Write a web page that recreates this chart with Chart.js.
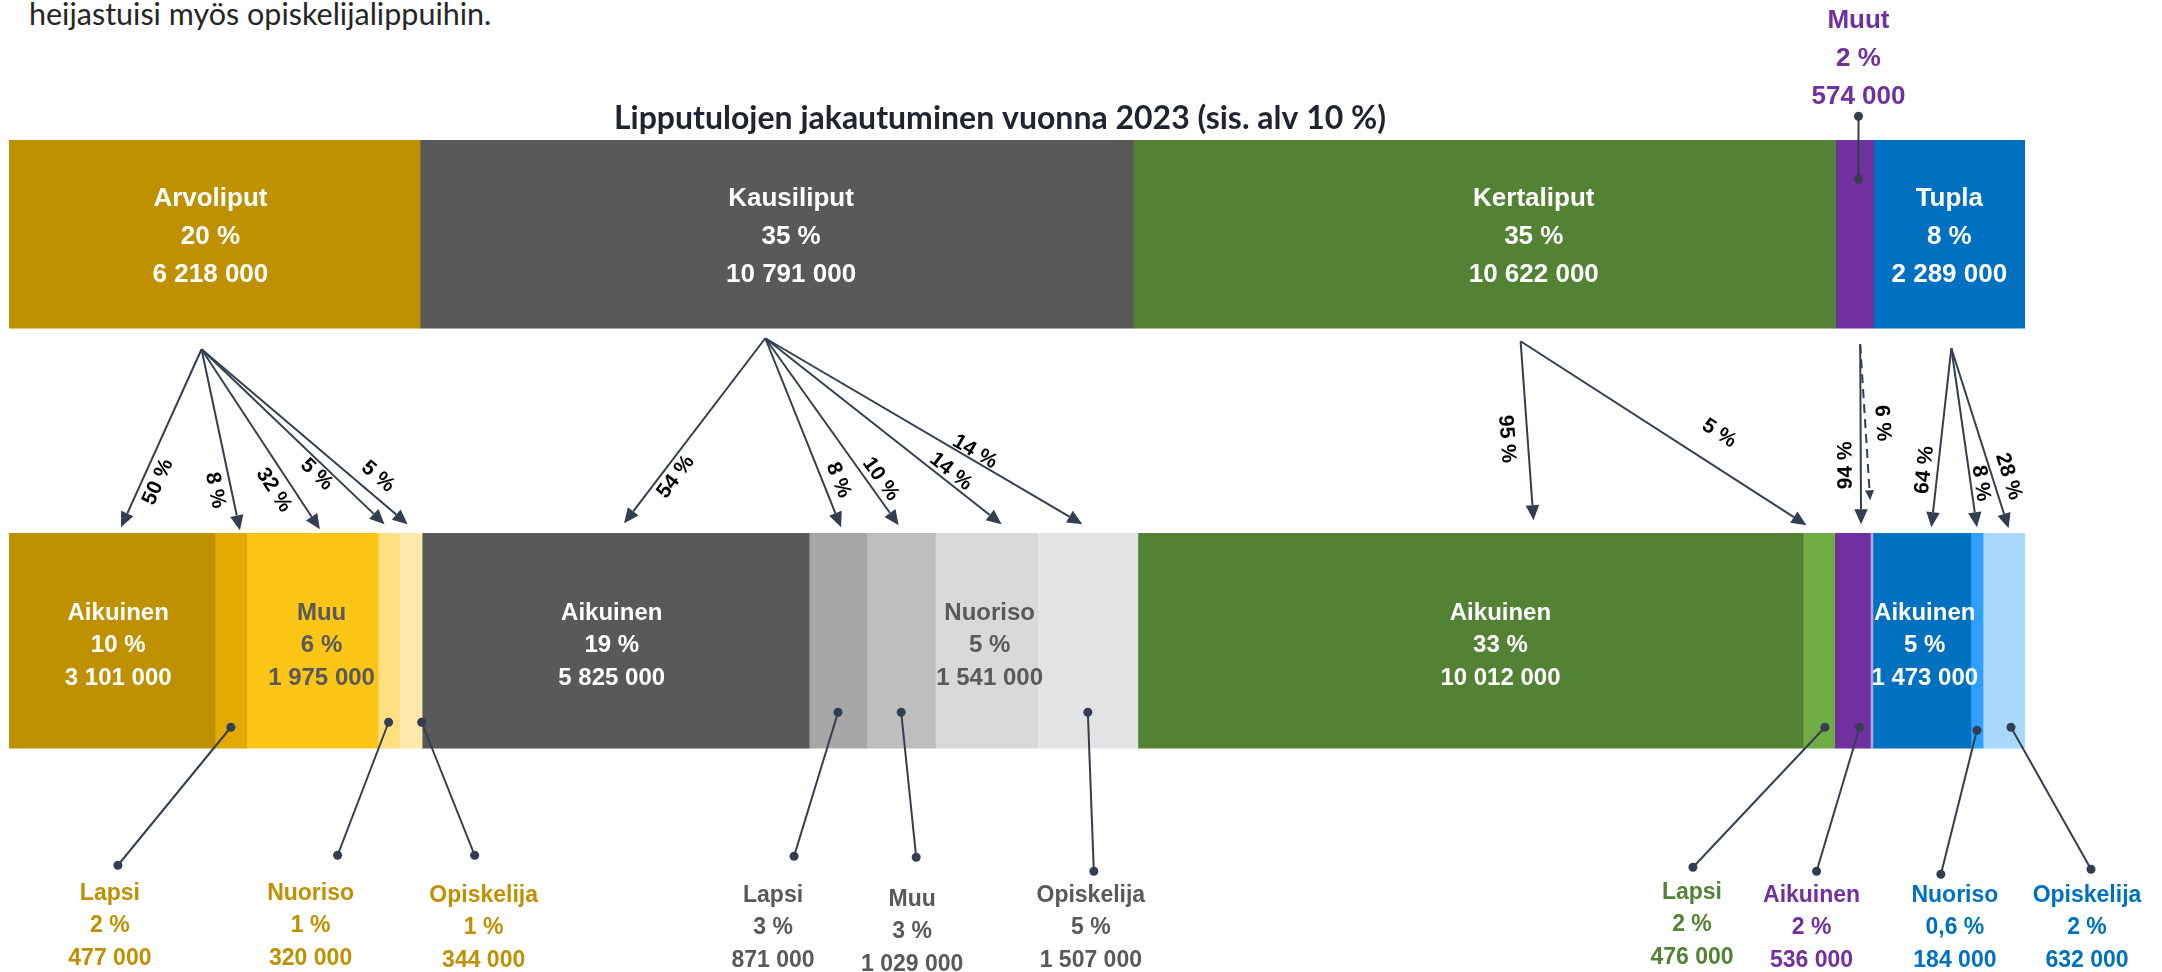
<!DOCTYPE html>
<html>
<head>
<meta charset="utf-8">
<script src="https://cdn.jsdelivr.net/npm/chart.js@4.4.1/dist/chart.umd.min.js"></script>
<style>
 html, body { margin: 0; padding: 0; background: #fff; }
 #wrap { position: relative; width: 2162px; height: 972px; overflow: hidden; }
 #lead { position: absolute; left: 29px; top: -5px; font: 30.5px/36px Lato, "Open Sans", sans-serif; color: #262626; white-space: nowrap; }
 #flowChart { position: absolute; left: 0; top: 0; }
</style>
</head>
<body>
<div id="wrap">
 <div id="lead">heijastuisi myös opiskelijalippuihin.</div>
 <canvas id="flowChart" width="2162" height="972"></canvas>
</div>
<script>
// ticket groups (top bar)
var groupNames = ["Arvoliput", "Kausiliput", "Kertaliput", "Muut", "Tupla"];
var groupValues = [6218000, 10791000, 10622000, 574000, 2289000];
var groupShares = ["20 %", "35 %", "35 %", "2 %", "8 %"];

// customer types inside each group (bottom bar)
var subGroup = [0, 0, 0, 0, 0, 1, 1, 1, 1, 1, 2, 2, 3, 3, 4, 4, 4];
var subNames = ["Aikuinen", "Lapsi", "Muu", "Nuoriso", "Opiskelija",
 "Aikuinen", "Lapsi", "Muu", "Nuoriso", "Opiskelija",
 "Aikuinen", "Lapsi", "Aikuinen", "", "Aikuinen", "Nuoriso", "Opiskelija"];
var subValues = [3101000, 477000, 1975000, 320000, 344000,
 5825000, 871000, 1029000, 1541000, 1507000,
 10012000, 476000, 536000, 38000, 1473000, 184000, 632000];
var subShares = ["10 %", "2 %", "6 %", "1 %", "1 %", "19 %", "3 %", "3 %", "5 %", "5 %",
 "33 %", "2 %", "2 %", "", "5 %", "0,6 %", "2 %"];
// share of the group that flows to each customer type (arrow labels)
var flowShares = ["50 %", "8 %", "32 %", "5 %", "5 %", "54 %", "8 %", "10 %", "14 %", "14 %",
 "95 %", "5 %", "94 %", "6 %", "64 %", "8 %", "28 %"];

var groupColors = ["#BF9000", "#595959", "#548235", "#7030A0", "#0070C0"];
var subColors = ["#BF9000", "#E2AA00", "#FDC515", "#FFDF80", "#FFE9AA",
 "#595959", "#A6A6A6", "#BEBEBE", "#D9D9D9", "#E3E3E3",
 "#548235", "#70AD47", "#7030A0", "#B4A7E6", "#0070C0", "#2E9FFF", "#A9D8FF"];

// label layout, kept apart from the data
var topLabelAt = [0.49, 0.52, 0.57, 0.6, 0.5];
var inside = {
 0: { at: 0.53, color: "#fff" },
 2: { at: 0.57, color: "#595959" },
 5: { at: 0.49, color: "#fff" },
 8: { at: 0.53, color: "#595959" },
 10: { at: 0.545, color: "#fff" },
 14: { at: 0.53, color: "#fff" }
};
var callouts = {
 1: { tx: -121, dot: 8, barDy: -21, labDy: 117, textDy: -2 },
 3: { tx: -78, dot: 27, barDy: -26, labDy: 107, textDy: -2 },
 4: { tx: 73, dot: -9, barDy: -26, labDy: 107, barDx: 11 },
 6: { tx: -65, dot: 21, barDy: -36, labDy: 108 },
 7: { tx: 11, dot: 4, barDy: -36, labDy: 109, textDy: 4 },
 9: { tx: 3, dot: 3, barDy: -36, labDy: 123 },
 11: { tx: -127, dot: 1, barDy: -21, labDy: 119, barDx: 6, textDy: -3 },
 12: { tx: -41, dot: 5, barDy: -21, labDy: 123, barDx: 7 },
 15: { tx: -22, dot: -14, barDy: -18, labDy: 126 },
 16: { tx: 83, dot: 4, barDy: -21, labDy: 121, barDx: 7 }
};
var originDx = [-13, -11.5, 36, 5.5, 2];
var originDy = [21, 10, 13, 16, 20];
var tipDx = [9, 9, 7.5, -4, -3, 8.5, 3, -2.5, 15, -5.5, 63, -12.5, 8.5, -1.5, 9.5, 0, 4.6];
var tipDy = [-6, -3, -4, -9, -9, -10, -6, -8, -9, -9, -13, -8, -9, -33, -6, -6, -5];
var flowT = [0.711, 0.761, 0.731, 0.67, 0.802, 0.707, 0.78, 0.791, 0.759, 0.648,
 0.538, 0.638, 0.672, 0.513, 0.688, 0.762, 0.739];
var flowOff = [-15, 16, 17, 11, -17, -13, -15, -12, -10, -8, 21, -30, 15, -17, 13, -10, -15.5];
var flowUp = [1, 0, 0, 0, 0, 1, 0, 0, 0, 0, 0, 0, 1, 0, 1, 0, 0];

var LINE = "#333F50";
var ARIAL = '"Liberation Sans", Arial, sans-serif';

function fmt(v) {
 return String(v).replace(/\B(?=(\d{3})+(?!\d))/g, " ");
}

function sum(a) {
 return a.reduce(function (s, v) { return s + v; }, 0);
}

function box(el) {
 var p = el.getProps(["x", "y", "base", "height"], true);
 return {
  l: Math.min(p.x, p.base), r: Math.max(p.x, p.base),
  t: p.y - p.height / 2, b: p.y + p.height / 2, c: p.y
 };
}

function textLines(ctx, x, y, texts, gap) {
 texts.forEach(function (t, k) {
  ctx.fillText(t, x, y + k * gap);
 });
}

function dot(ctx, x, y) {
 ctx.beginPath();
 ctx.arc(x, y, 4.5, 0, Math.PI * 2);
 ctx.fill();
}

function arrow(ctx, x1, y1, x2, y2, head, dashed) {
 var dx = x2 - x1, dy = y2 - y1;
 var len = Math.sqrt(dx * dx + dy * dy);
 var ux = dx / len, uy = dy / len;
 var bx = x2 - ux * head, by = y2 - uy * head;
 ctx.setLineDash(dashed ? [9, 6] : []);
 ctx.beginPath();
 ctx.moveTo(x1, y1);
 ctx.lineTo(bx, by);
 ctx.stroke();
 ctx.setLineDash([]);
 ctx.beginPath();
 ctx.moveTo(x2, y2);
 ctx.lineTo(bx - uy * head * 0.45, by + ux * head * 0.45);
 ctx.lineTo(bx + uy * head * 0.45, by - ux * head * 0.45);
 ctx.closePath();
 ctx.fill();
}

var flowPlugin = {
 id: "flowLabels",
 afterDatasetsDraw: function (chart) {
  var ctx = chart.ctx;
  var tops = groupNames.map(function (n, i) {
   return box(chart.getDatasetMeta(i).data[0]);
  });
  var subs = subNames.map(function (n, i) {
   return box(chart.getDatasetMeta(groupNames.length + i).data[1]);
  });
  var area = chart.chartArea;

  ctx.save();
  ctx.textAlign = "center";
  ctx.textBaseline = "middle";

  // title
  ctx.fillStyle = "#1F2430";
  ctx.font = "bold 32px Lato, sans-serif";
  ctx.fillText("Lipputulojen jakautuminen vuonna 2023 (sis. alv 10 %)", (area.left + area.right) / 2 - 17, tops[0].t - 22);

  // top bar labels
  ctx.font = "bold 26px " + ARIAL;
  tops.forEach(function (s, i) {
   var x = s.l + (s.r - s.l) * topLabelAt[i];
   var texts = [groupNames[i], groupShares[i], fmt(groupValues[i])];
   if (i === 3) {
    ctx.fillStyle = groupColors[i];
    textLines(ctx, x, s.t - 119, texts, 38);
    ctx.strokeStyle = LINE;
    ctx.fillStyle = LINE;
    ctx.lineWidth = 2;
    ctx.beginPath();
    ctx.moveTo(x, s.t - 24);
    ctx.lineTo(x, s.t + 39);
    ctx.stroke();
    dot(ctx, x, s.t - 24);
    dot(ctx, x, s.t + 39);
   } else {
    ctx.fillStyle = "#fff";
    textLines(ctx, x, s.c + 3 - 38, texts, 38);
   }
  });

  // labels inside the bottom bar
  ctx.font = "bold 24px " + ARIAL;
  Object.keys(inside).forEach(function (k) {
   var i = +k, s = subs[i], o = inside[k];
   ctx.fillStyle = o.color;
   textLines(ctx, s.l + (s.r - s.l) * o.at, s.c + 5 - 32.5,
    [subNames[i], subShares[i], fmt(subValues[i])], 32.5);
  });

  // callouts below the bottom bar
  ctx.font = "bold 23px " + ARIAL;
  ctx.lineWidth = 2;
  Object.keys(callouts).forEach(function (k) {
   var i = +k, s = subs[i], o = callouts[k];
   var cx = (s.l + s.r) / 2;
   var bx = cx + (o.barDx || 0), by = s.b + o.barDy;
   var tx = cx + o.tx, lx = tx + o.dot, ly = s.b + o.labDy;
   ctx.strokeStyle = LINE;
   ctx.fillStyle = LINE;
   ctx.beginPath();
   ctx.moveTo(bx, by);
   ctx.lineTo(lx, ly);
   ctx.stroke();
   dot(ctx, bx, by);
   dot(ctx, lx, ly);
   ctx.fillStyle = groupColors[subGroup[i]];
   textLines(ctx, tx, s.b + 147 + (o.textDy || 0),
    [subNames[i], subShares[i], fmt(subValues[i])], 32.5);
  });

  // arrows from each group to its customer types
  subs.forEach(function (s, i) {
   var g = subGroup[i], t = tops[g];
   var ox = (t.l + t.r) / 2 + originDx[g], oy = t.b + originDy[g];
   var px = (s.l + s.r) / 2 + tipDx[i], py = s.t + tipDy[i];
   var dashed = subNames[i] === "";
   ctx.strokeStyle = LINE;
   ctx.fillStyle = LINE;
   ctx.lineWidth = 2;
   arrow(ctx, ox, oy, px, py, dashed ? 10 : 15, dashed);

   var dx = px - ox, dy = py - oy;
   var len = Math.sqrt(dx * dx + dy * dy);
   var ux = dx / len, uy = dy / len;
   var lx = ox + dx * flowT[i] - uy * flowOff[i];
   var ly = oy + dy * flowT[i] + ux * flowOff[i];
   ctx.save();
   ctx.translate(lx, ly);
   ctx.rotate(Math.atan2(dy, dx) + (flowUp[i] ? Math.PI : 0));
   ctx.fillStyle = "#000";
   ctx.font = "bold 21px " + ARIAL;
   ctx.fillText(flowShares[i], 0, 0);
   ctx.restore();
  });

  ctx.restore();
 }
};

var datasets = [];
groupNames.forEach(function (n, i) {
 datasets.push({
  label: n,
  data: [groupValues[i], null],
  backgroundColor: groupColors[i],
  xAxisID: "x",
  barThickness: 188
 });
});
subNames.forEach(function (n, i) {
 datasets.push({
  label: groupNames[subGroup[i]] + " " + n,
  data: [null, subValues[i]],
  backgroundColor: subColors[i],
  xAxisID: "x2",
  barThickness: 215
 });
});

new Chart(document.getElementById("flowChart"), {
 type: "bar",
 data: { labels: ["Lipputyypit", "Asiakasryhmät"], datasets: datasets },
 options: {
  indexAxis: "y",
  responsive: false,
  animation: false,
  devicePixelRatio: 1,
  layout: { padding: { top: 31, bottom: 128, left: 9, right: 137 } },
  elements: { bar: { borderWidth: 0 } },
  scales: {
   y: { display: false, stacked: true },
   x: { display: false, stacked: true, min: 0, max: sum(groupValues) },
   x2: { display: false, stacked: true, min: 0, max: sum(subValues) }
  },
  plugins: {
   legend: { display: false },
   tooltip: { enabled: false }
  }
 },
 plugins: [flowPlugin]
});
</script>
</body>
</html>
